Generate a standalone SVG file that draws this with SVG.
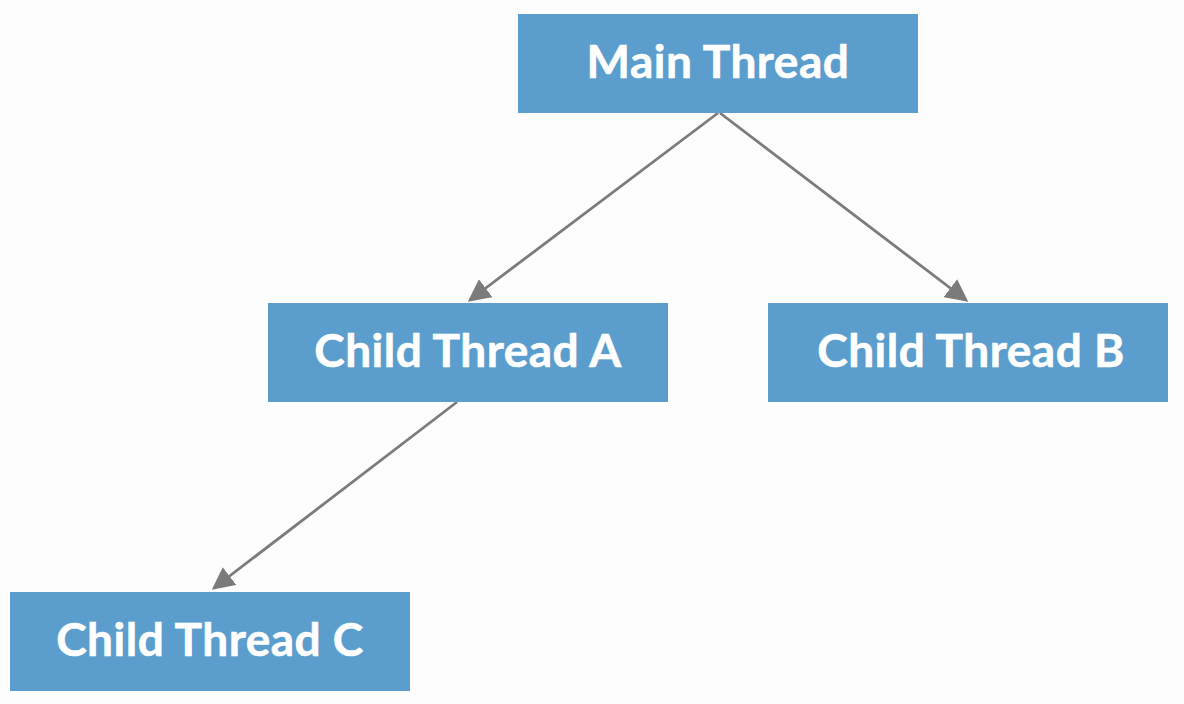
<svg xmlns="http://www.w3.org/2000/svg" width="1184" height="704" viewBox="0 0 1184 704">
<style>
.box{fill:#5b9ecd;}
.lbl{font-family:Lato,"Open Sans",sans-serif;font-weight:bold;font-size:46px;letter-spacing:0.5px;fill:#ffffff;text-anchor:middle;dominant-baseline:central;stroke:#ffffff;stroke-width:0.6;}
.edge{stroke:#7b7b7b;stroke-width:2.8;fill:none;marker-end:url(#arr);}
</style>
<defs>
<marker id="arr" markerWidth="8" markerHeight="8" refX="7" refY="4" orient="auto" markerUnits="strokeWidth">
<path d="M0,0 L8,4 L0,8 z" fill="#7b7b7b"/>
</marker>
</defs>
<rect width="1184" height="704" fill="#fdfdfe"/>
<g id="connectors">
<line class="edge" x1="718" y1="113" x2="470" y2="300"/>
<line class="edge" x1="720" y1="113" x2="966" y2="300"/>
<line class="edge" x1="457" y1="402" x2="214" y2="588"/>
</g>
<g id="main"><rect class="box" x="518" y="14" width="400" height="99"/><text class="lbl" x="718" y="60">Main Thread</text></g>
<g id="childA"><rect class="box" x="268" y="303" width="400" height="99"/><text class="lbl" x="468" y="349">Child Thread A</text></g>
<g id="childB"><rect class="box" x="768" y="303" width="400" height="99"/><text class="lbl" x="971" y="349">Child Thread B</text></g>
<g id="childC"><rect class="box" x="10" y="592" width="400" height="99"/><text class="lbl" x="210" y="638">Child Thread C</text></g>
</svg>
